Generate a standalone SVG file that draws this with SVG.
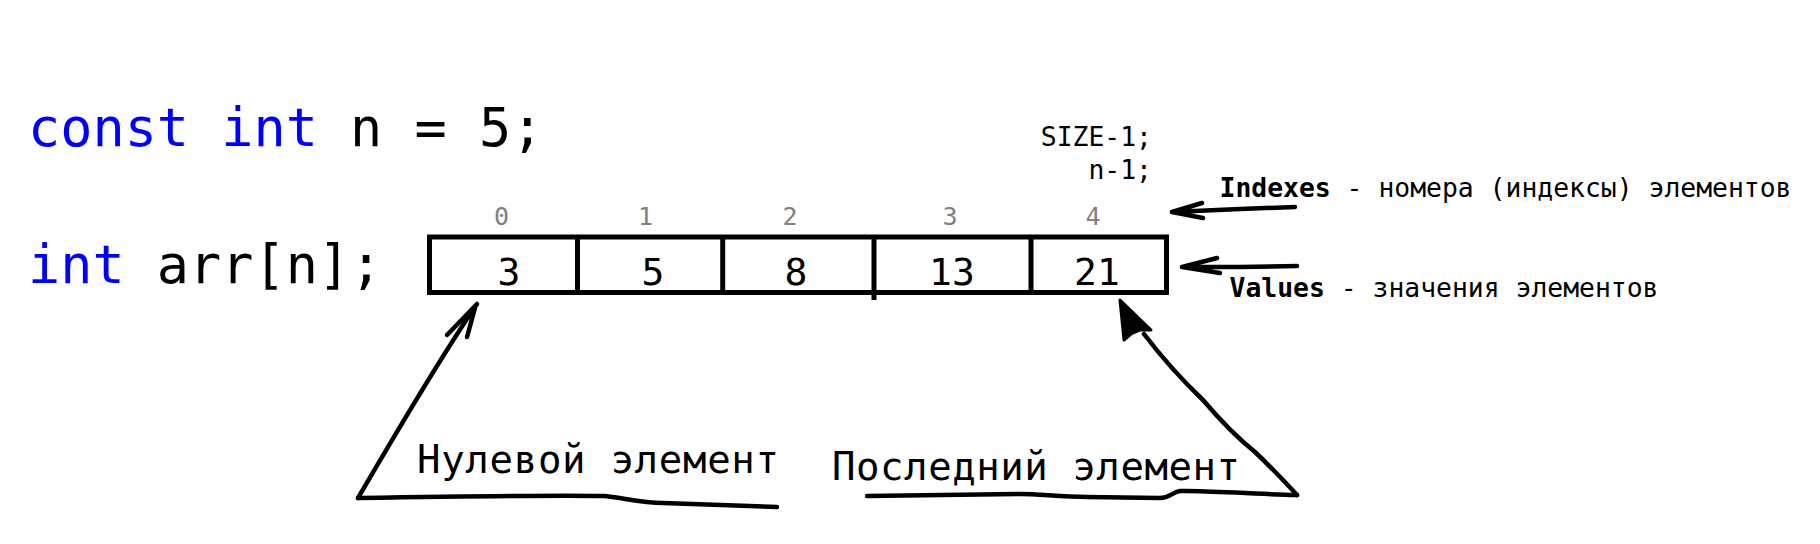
<svg xmlns="http://www.w3.org/2000/svg" width="1820" height="544" viewBox="0 0 1820 544">
<style>
text{font-family:"DejaVu Sans Mono","Liberation Mono",monospace;white-space:pre;fill:#000}
.big{font-size:53.5px}
.kw{fill:#0000ff}
.small{font-size:26.4px}
.idx{font-size:25px;fill:#808080;text-anchor:middle}
.val{font-size:38px;text-anchor:middle}
.lbl{font-size:39px}
.b{font-weight:bold}
.box{fill:none;stroke:#000;stroke-width:5}
.pen{fill:none;stroke:#000;stroke-width:4.5;stroke-linecap:round;stroke-linejoin:round}
.head{fill:#000;stroke:#000;stroke-width:3;stroke-linejoin:round}
</style>
<rect width="1820" height="544" fill="#fff"/>
<g id="code-const">
<text class="big" x="28" y="146"><tspan class="kw">const int</tspan> n = 5;</text>
</g>
<g id="code-arr">
<text class="big" x="28" y="283"><tspan class="kw">int</tspan> arr[n];</text>
</g>
<g id="array">
<rect class="box" x="429.5" y="237" width="737" height="55.5"/>
<line class="box" x1="577.5" y1="237" x2="577.5" y2="292.5"/>
<line class="box" x1="722.7" y1="237" x2="722.7" y2="292.5"/>
<line class="box" x1="874" y1="237" x2="874" y2="300"/>
<line class="box" x1="1031" y1="237" x2="1031" y2="292.5"/>
<text class="val" x="509" y="285">3</text>
<text class="val" x="653" y="285">5</text>
<text class="val" x="796" y="285">8</text>
<text class="val" x="952" y="285">13</text>
<text class="val" x="1097" y="285">21</text>
</g>
<g id="indexes">
<text class="idx" x="501.5" y="225">0</text>
<text class="idx" x="645.5" y="225">1</text>
<text class="idx" x="790" y="225">2</text>
<text class="idx" x="950" y="225">3</text>
<text class="idx" x="1093" y="225">4</text>
</g>
<g id="last-index-note">
<text class="small" x="1152" y="146" text-anchor="end">SIZE-1;</text>
<text class="small" x="1152" y="179" text-anchor="end">n-1;</text>
</g>
<g id="indexes-label">
<text class="small" x="1219.5" y="197"><tspan class="b">Indexes</tspan> - номера (индексы) элементов</text>
</g>
<g id="values-label">
<text class="small" x="1229.5" y="297"><tspan class="b">Values</tspan> - значения элементов</text>
</g>
<g id="zero-label">
<text class="lbl" x="417" y="473" textLength="362">Нулевой элемент</text>
</g>
<g id="last-label">
<text class="lbl" x="832" y="480" textLength="408">Последний элемент</text>
</g>
<g id="connectors">
<path class="pen" d="M1295 207 L1240 209 L1172 212 M1172 212 L1202 203 M1172 212 L1203 218"/>
<path class="pen" d="M1297 266 L1240 267 L1182 267 M1182 267 L1217 258 M1182 267 L1220 273"/>
<path class="pen" d="M358 498 C392 440 436 364 477 304 M477 304 L447 335 M475 308 L467 337"/>
<path class="pen" d="M358 498 C420 497 560 495 603 496 C620 497 640 503 663 503 L777 507"/>
<path class="pen" d="M1144 334 C1160 355 1180 378 1203 400 C1220 420 1240 440 1255 452 C1272 468 1285 482 1297 495"/>
<path class="head" d="M1120 300 L1124 340 L1131 334 L1140 330 L1151 330 Z"/>
<path class="pen" d="M1297 495 C1250 494 1200 490 1180 491 C1172 492 1170 498 1160 498 L1087 497 C1060 497 1040 494 1020 494 L867 496"/>
</g>
</svg>
